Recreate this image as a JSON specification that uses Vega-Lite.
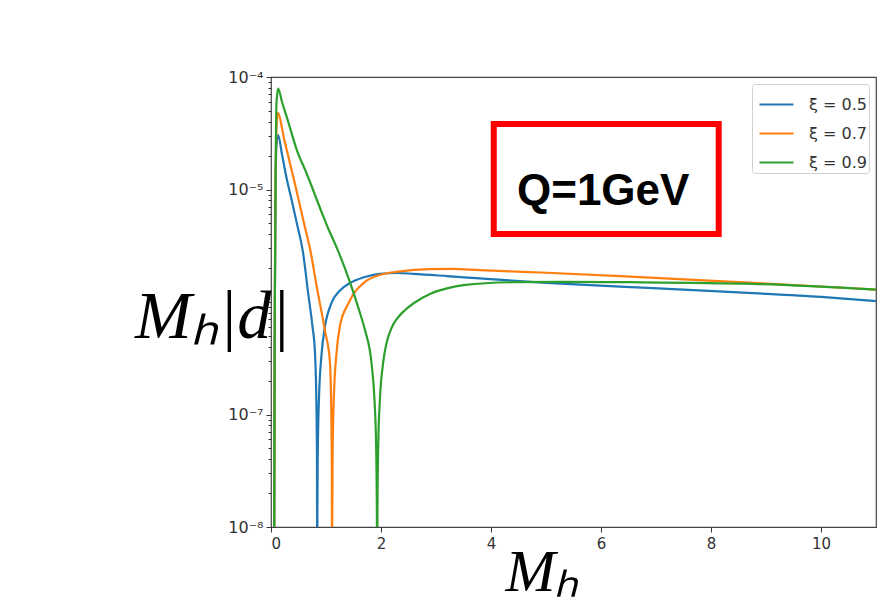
{
  "$schema": "https://vega.github.io/schema/vega-lite/v6.json",
  "width": 605,
  "height": 450,
  "autosize": {"type": "none"},
  "padding": {"left": 271, "top": 77, "right": 1, "bottom": 82},
  "background": "white",
  "config": {
    "view": {"stroke": "#444", "strokeWidth": 1.2},
    "font": "DejaVu Sans"
  },
  "datasets": {
    "curves": [
      {"s": "ξ = 0.5", "x": 0.04, "y": 1e-10},
      {"s": "ξ = 0.5", "x": 0.055, "y": 1e-9},
      {"s": "ξ = 0.5", "x": 0.065, "y": 3e-7},
      {"s": "ξ = 0.5", "x": 0.08, "y": 8e-6},
      {"s": "ξ = 0.5", "x": 0.10, "y": 2.5e-5},
      {"s": "ξ = 0.5", "x": 0.13, "y": 3.05e-5},
      {"s": "ξ = 0.5", "x": 0.2, "y": 2.05e-5},
      {"s": "ξ = 0.5", "x": 0.285, "y": 1.25e-5},
      {"s": "ξ = 0.5", "x": 0.38, "y": 7.9e-6},
      {"s": "ξ = 0.5", "x": 0.47, "y": 5.0e-6},
      {"s": "ξ = 0.5", "x": 0.58, "y": 2.8e-6},
      {"s": "ξ = 0.5", "x": 0.68, "y": 1.15e-6},
      {"s": "ξ = 0.5", "x": 0.75, "y": 6.3e-7},
      {"s": "ξ = 0.5", "x": 0.80, "y": 3.5e-7},
      {"s": "ξ = 0.5", "x": 0.825, "y": 1.3e-7},
      {"s": "ξ = 0.5", "x": 0.835, "y": 4.5e-8},
      {"s": "ξ = 0.5", "x": 0.839, "y": 9e-9},
      {"s": "ξ = 0.5", "x": 0.841, "y": 1e-10},
      {"s": "ξ = 0.5", "x": 0.843, "y": 1.3e-8},
      {"s": "ξ = 0.5", "x": 0.85, "y": 4.3e-8},
      {"s": "ξ = 0.5", "x": 0.87, "y": 1.3e-7},
      {"s": "ξ = 0.5", "x": 0.92, "y": 3.47e-7},
      {"s": "ξ = 0.5", "x": 0.98, "y": 6.0e-7},
      {"s": "ξ = 0.5", "x": 1.10, "y": 9.8e-7},
      {"s": "ξ = 0.5", "x": 1.25, "y": 1.26e-6},
      {"s": "ξ = 0.5", "x": 1.44, "y": 1.48e-6},
      {"s": "ξ = 0.5", "x": 1.69, "y": 1.66e-6},
      {"s": "ξ = 0.5", "x": 1.98, "y": 1.78e-6},
      {"s": "ξ = 0.5", "x": 2.3, "y": 1.81e-6},
      {"s": "ξ = 0.5", "x": 2.59, "y": 1.78e-6},
      {"s": "ξ = 0.5", "x": 3.2, "y": 1.70e-6},
      {"s": "ξ = 0.5", "x": 3.8, "y": 1.62e-6},
      {"s": "ξ = 0.5", "x": 5.01, "y": 1.48e-6},
      {"s": "ξ = 0.5", "x": 6.35, "y": 1.37e-6},
      {"s": "ξ = 0.5", "x": 7.5, "y": 1.29e-6},
      {"s": "ξ = 0.5", "x": 8.77, "y": 1.20e-6},
      {"s": "ξ = 0.5", "x": 10, "y": 1.11e-6},
      {"s": "ξ = 0.5", "x": 11, "y": 1.02e-6},

      {"s": "ξ = 0.7", "x": 0.04, "y": 1e-10},
      {"s": "ξ = 0.7", "x": 0.055, "y": 1e-9},
      {"s": "ξ = 0.7", "x": 0.065, "y": 3e-7},
      {"s": "ξ = 0.7", "x": 0.08, "y": 8e-6},
      {"s": "ξ = 0.7", "x": 0.10, "y": 3.5e-5},
      {"s": "ξ = 0.7", "x": 0.12, "y": 4.8e-5},
      {"s": "ξ = 0.7", "x": 0.25, "y": 2.65e-5},
      {"s": "ξ = 0.7", "x": 0.42, "y": 1.21e-5},
      {"s": "ξ = 0.7", "x": 0.6, "y": 5.0e-6},
      {"s": "ξ = 0.7", "x": 0.72, "y": 2.8e-6},
      {"s": "ξ = 0.7", "x": 0.83, "y": 1.38e-6},
      {"s": "ξ = 0.7", "x": 0.98, "y": 5.6e-7},
      {"s": "ξ = 0.7", "x": 1.07, "y": 3.0e-7},
      {"s": "ξ = 0.7", "x": 1.095, "y": 1.13e-7},
      {"s": "ξ = 0.7", "x": 1.105, "y": 3.8e-8},
      {"s": "ξ = 0.7", "x": 1.109, "y": 7.5e-9},
      {"s": "ξ = 0.7", "x": 1.111, "y": 1e-10},
      {"s": "ξ = 0.7", "x": 1.113, "y": 1e-8},
      {"s": "ξ = 0.7", "x": 1.12, "y": 4.3e-8},
      {"s": "ξ = 0.7", "x": 1.14, "y": 1.3e-7},
      {"s": "ξ = 0.7", "x": 1.19, "y": 3.47e-7},
      {"s": "ξ = 0.7", "x": 1.25, "y": 6.0e-7},
      {"s": "ξ = 0.7", "x": 1.41, "y": 9.8e-7},
      {"s": "ξ = 0.7", "x": 1.71, "y": 1.51e-6},
      {"s": "ξ = 0.7", "x": 1.98, "y": 1.74e-6},
      {"s": "ξ = 0.7", "x": 2.31, "y": 1.86e-6},
      {"s": "ξ = 0.7", "x": 2.89, "y": 1.96e-6},
      {"s": "ξ = 0.7", "x": 3.3, "y": 1.97e-6},
      {"s": "ξ = 0.7", "x": 3.8, "y": 1.92e-6},
      {"s": "ξ = 0.7", "x": 5.01, "y": 1.82e-6},
      {"s": "ξ = 0.7", "x": 6.35, "y": 1.70e-6},
      {"s": "ξ = 0.7", "x": 8.77, "y": 1.48e-6},
      {"s": "ξ = 0.7", "x": 11, "y": 1.29e-6},

      {"s": "ξ = 0.9", "x": 0.04, "y": 1e-10},
      {"s": "ξ = 0.9", "x": 0.05, "y": 1e-9},
      {"s": "ξ = 0.9", "x": 0.06, "y": 3e-8},
      {"s": "ξ = 0.9", "x": 0.07, "y": 1e-6},
      {"s": "ξ = 0.9", "x": 0.085, "y": 1.6e-5},
      {"s": "ξ = 0.9", "x": 0.10, "y": 5.9e-5},
      {"s": "ξ = 0.9", "x": 0.13, "y": 7.9e-5},
      {"s": "ξ = 0.9", "x": 0.2, "y": 6.0e-5},
      {"s": "ξ = 0.9", "x": 0.3, "y": 4.2e-5},
      {"s": "ξ = 0.9", "x": 0.47, "y": 2.24e-5},
      {"s": "ξ = 0.9", "x": 0.65, "y": 1.38e-5},
      {"s": "ξ = 0.9", "x": 0.92, "y": 6.3e-6},
      {"s": "ξ = 0.9", "x": 1.04, "y": 4.5e-6},
      {"s": "ξ = 0.9", "x": 1.2, "y": 3.0e-6},
      {"s": "ξ = 0.9", "x": 1.44, "y": 1.48e-6},
      {"s": "ξ = 0.9", "x": 1.6, "y": 8.5e-7},
      {"s": "ξ = 0.9", "x": 1.71, "y": 5.6e-7},
      {"s": "ξ = 0.9", "x": 1.83, "y": 2.8e-7},
      {"s": "ξ = 0.9", "x": 1.88, "y": 1.4e-7},
      {"s": "ξ = 0.9", "x": 1.91, "y": 5.6e-8},
      {"s": "ξ = 0.9", "x": 1.925, "y": 1.4e-8},
      {"s": "ξ = 0.9", "x": 1.93, "y": 1e-10},
      {"s": "ξ = 0.9", "x": 1.935, "y": 1.35e-8},
      {"s": "ξ = 0.9", "x": 1.95, "y": 5.4e-8},
      {"s": "ξ = 0.9", "x": 1.98, "y": 1.35e-7},
      {"s": "ξ = 0.9", "x": 2.04, "y": 2.9e-7},
      {"s": "ξ = 0.9", "x": 2.1, "y": 4.3e-7},
      {"s": "ξ = 0.9", "x": 2.2, "y": 6.0e-7},
      {"s": "ξ = 0.9", "x": 2.3, "y": 7.2e-7},
      {"s": "ξ = 0.9", "x": 2.44, "y": 8.5e-7},
      {"s": "ξ = 0.9", "x": 2.6, "y": 9.8e-7},
      {"s": "ξ = 0.9", "x": 2.89, "y": 1.18e-6},
      {"s": "ξ = 0.9", "x": 3.2, "y": 1.32e-6},
      {"s": "ξ = 0.9", "x": 3.5, "y": 1.41e-6},
      {"s": "ξ = 0.9", "x": 4.41, "y": 1.50e-6},
      {"s": "ξ = 0.9", "x": 5.32, "y": 1.51e-6},
      {"s": "ξ = 0.9", "x": 6.53, "y": 1.50e-6},
      {"s": "ξ = 0.9", "x": 8.77, "y": 1.45e-6},
      {"s": "ξ = 0.9", "x": 11, "y": 1.29e-6}
    ],
    "box": [{"x": 4.05, "x2": 8.14, "y": 3.82e-5, "y2": 4.02e-6}],
    "note": [{"x": 6.04, "y": 7.28e-6, "t": "Q=1GeV"}]
  },
  "layer": [
    {
      "data": {"name": "curves"},
      "mark": {"type": "line", "strokeWidth": 2.2, "clip": true, "interpolate": "monotone"},
      "encoding": {
        "x": {
          "field": "x", "type": "quantitative",
          "scale": {"domain": [0, 11], "nice": false, "zero": false},
          "axis": {
            "orient": "bottom",
            "values": [0, 2, 4, 6, 8, 10], "grid": false, "domain": false,
            "tickSize": 5, "tickColor": "#333", "labelFontSize": 15, "labelColor": "#333",
            "labelPadding": 4,
            "title": "Mₕ", "titleFont": "Liberation Serif", "titleFontStyle": "italic",
            "titleFontWeight": "normal", "titleFontSize": 60, "titleColor": "#000",
            "titleX": 271, "titleY": 63, "titleAlign": "center", "titleBaseline": "alphabetic"
          }
        },
        "y": {
          "field": "y", "type": "quantitative",
          "scale": {"type": "log", "domain": [1e-8, 1e-4], "nice": false},
          "axis": {
            "orient": "left",
            "values": [1e-8, 1e-7, 1e-6, 1e-5, 1e-4], "grid": false, "domain": false,
            "tickSize": 5, "tickColor": "#333", "labelFontSize": 16, "labelColor": "#333",
            "labelPadding": 3,
            "labelExpr": "datum.value > 5e-5 ? '10⁻⁴' : datum.value > 5e-6 ? '10⁻⁵' : datum.value > 5e-7 ? '' : datum.value > 5e-8 ? '10⁻⁷' : '10⁻⁸'",
            "title": "Mₕ|d|", "titleFont": "Liberation Serif", "titleFontStyle": "italic",
            "titleFontWeight": "normal", "titleFontSize": 68, "titleColor": "#000",
            "titleAngle": 0, "titleX": -59, "titleY": 260, "titleAlign": "center", "titleBaseline": "alphabetic"
          }
        },
        "color": {
          "field": "s", "type": "nominal",
          "scale": {"domain": ["ξ = 0.5", "ξ = 0.7", "ξ = 0.9"], "range": ["#1f77b4", "#ff7f0e", "#2ca02c"]},
          "legend": {
            "title": null, "orient": "top-right", "offset": 7, "padding": 2,
            "strokeColor": "#d0d0d0", "fillColor": "white", "cornerRadius": 3,
            "symbolType": "stroke", "symbolSize": 1156, "symbolStrokeWidth": 2.2, "symbolOffset": 4,
            "labelFontSize": 16, "labelColor": "#333", "labelOffset": 14, "rowPadding": 2
          }
        }
      }
    },
    {
      "data": {"name": "box"},
      "mark": {"type": "rect", "filled": false, "stroke": "#ff0000", "strokeWidth": 6},
      "encoding": {
        "x": {"field": "x", "type": "quantitative", "scale": {"domain": [0, 11], "nice": false, "zero": false}, "axis": null},
        "x2": {"field": "x2"},
        "y": {
          "field": "y", "type": "quantitative",
          "scale": {"type": "log", "domain": [1e-8, 1e-4], "nice": false},
          "axis": {
            "orient": "left", "domain": false, "grid": false, "labels": false, "title": null,
            "tickSize": 3, "tickColor": "#333",
            "values": [2e-8, 3e-8, 4e-8, 5e-8, 6e-8, 7e-8, 8e-8, 9e-8,
                       2e-7, 3e-7, 4e-7, 5e-7, 6e-7, 7e-7, 8e-7, 9e-7,
                       2e-6, 3e-6, 4e-6, 5e-6, 6e-6, 7e-6, 8e-6, 9e-6,
                       2e-5, 3e-5, 4e-5, 5e-5, 6e-5, 7e-5, 8e-5, 9e-5]
          }
        },
        "y2": {"field": "y2"}
      }
    },
    {
      "data": {"name": "note"},
      "mark": {"type": "text", "font": "Liberation Sans", "fontWeight": "bold", "fontSize": 44, "align": "center", "baseline": "alphabetic", "color": "#000"},
      "encoding": {
        "x": {"field": "x", "type": "quantitative", "scale": {"domain": [0, 11], "nice": false, "zero": false}, "axis": null},
        "y": {"field": "y", "type": "quantitative", "scale": {"type": "log", "domain": [1e-8, 1e-4], "nice": false}, "axis": null},
        "text": {"field": "t"}
      }
    }
  ],
  "resolve": {"axis": {"x": "independent", "y": "independent"}}
}
